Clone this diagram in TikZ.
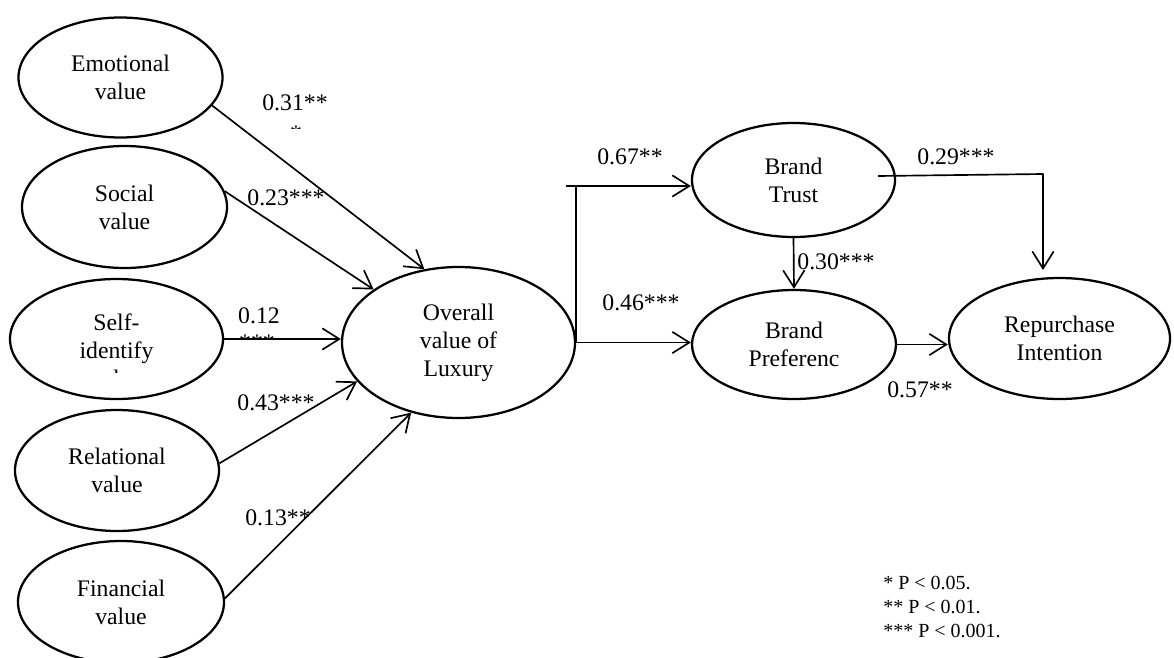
\documentclass[tikz,border=0pt]{standalone}
\usepackage{fontspec}
\setmainfont{Liberation Serif}
\usetikzlibrary{arrows.meta,shapes.geometric}
\begin{document}
\begin{tikzpicture}[x=0.75pt,y=-0.75pt,
  latent/.style={ellipse,draw,line width=1.7pt,inner sep=0pt,align=center,
    font=\fontsize{17.8}{21}\selectfont},
  path/.style={line width=1.25pt,line join=round,
    -{Straight Barb[length=12.75pt,width=16pt,line width=1.25pt]}},
  plain/.style={line width=1.25pt},
  coef/.style={inner sep=0pt,font=\fontsize{17.8}{21}\selectfont},
  note/.style={inner sep=0pt,anchor=base west,font=\fontsize{15}{18}\selectfont}]
\clip (0,0) rectangle (1174,657);

% value dimensions
\node[latent,minimum width=153pt,minimum height=90pt]   (emo)  at (120.5,77.5) {Emotional\\value};
\node[latent,minimum width=153.75pt,minimum height=91.5pt] (soc) at (124.5,207) {Social\\value};
\node[latent,minimum width=159.75pt,minimum height=90pt] (self) at (116.5,339) {};
\node[latent,minimum width=153pt,minimum height=90.75pt] (rel)  at (117,470.5) {Relational\\value};
\node[latent,minimum width=154.5pt,minimum height=91.5pt] (fin)  at (121,602) {Financial\\value};

% text of the self-identify construct, cut off at its box
\begin{scope}
  \clip (0,0) rectangle (1174,372.5);
  \node[coef,align=center,font=\fontsize{17.8}{21}\selectfont] (selftext) at (116.5,350.5) {Self-\\identify\\value};
\end{scope}

% central and outcome constructs
\node[latent,minimum width=174.75pt,minimum height=113.25pt] (ov) at (458.5,342.5) {Overall\\value of\\Luxury};
\node[latent,minimum width=152.25pt,minimum height=85.5pt] (trust) at (793.5,180) {Brand\\Trust};
\node[latent,minimum width=153pt,minimum height=81.75pt] (pref) at (794,344.5) {Brand\\Preferenc};
\node[latent,minimum width=165.75pt,minimum height=90.75pt] (rep) at (1059.5,338.5) {Repurchase\\Intention};

% paths into overall value
\draw[path] (emo.-17) -- (ov.115);
\draw[path] (soc.9) -- (ov.148);
\draw[path] (self.east) -- (self.east -| ov.west);
\draw[path] (rel.4) -- (ov.201);
\draw[path] (fin.2) -- (ov.236);

% paths to brand trust and brand preference
\coordinate (jt) at (566,186);
\draw[plain] (ov.east) -- (ov.east |- jt);
\draw[path] (jt) -- (jt -| trust.west);
\draw[path] (ov.east) -- (ov.east -| pref.west);
\draw[path] (trust.south) -- (pref.north);

% paths to repurchase intention
\coordinate (ta) at (878,176);
\coordinate (tb) at (1043,174);
\coordinate (tc) at (1043,270);
\draw[path] (ta) -- (tb) -- (tc);
\draw[path] (pref.east) -- (pref.east -| rep.west);

% path coefficients
\node[coef] (c31) at (295,103) {0.31**};
\begin{scope}
  \clip (0,0) rectangle (1174,128);
  \node[coef,anchor=base] (c31s) at (296,141) {*};
\end{scope}
\node[coef] (c23) at (286,198) {0.23***};
\node[coef] (c12) at (259,316) {0.12};
\begin{scope}
  \clip (0,0) rectangle (1174,339);
  \node[coef,anchor=base] (c12s) at (257,350) {***};
\end{scope}
\node[coef] (c43) at (276,403) {0.43***};
\node[coef] (c13) at (278,518) {0.13**};
\node[coef] (c67) at (630,157) {0.67**};
\node[coef] (c46) at (641,303) {0.46***};
\node[coef] (c30) at (836,262) {0.30***};
\node[coef] (c29) at (956,157) {0.29***};
\node[coef] (c57) at (920,390) {0.57**};

% significance levels
\node[note] (n1) at (883,589) {* P < 0.05.};
\node[note] (n2) at (883,613) {** P < 0.01.};
\node[note] (n3) at (883,637) {*** P < 0.001.};
\end{tikzpicture}
\end{document}
